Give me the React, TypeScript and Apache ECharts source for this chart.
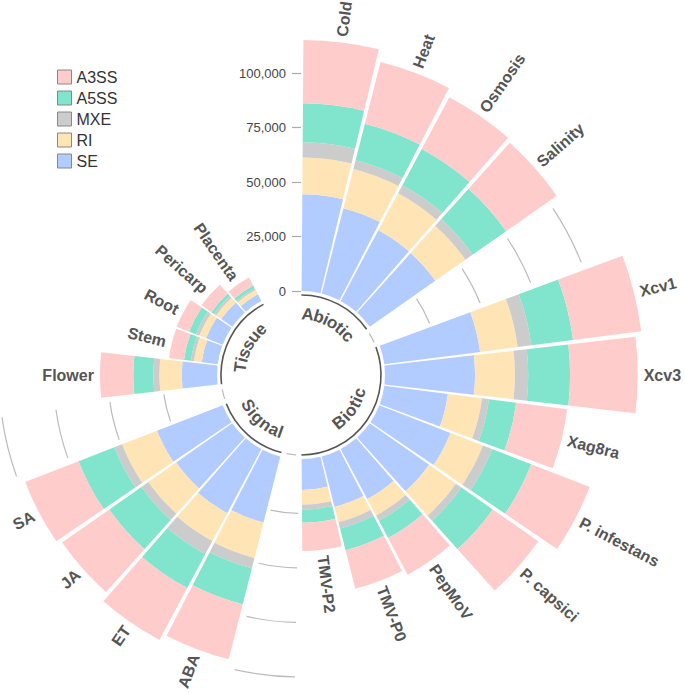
import React, { useEffect, useRef } from 'react';
import * as echarts from 'echarts';

// ---------- data ----------
const abioticCats = ['Cold', 'Heat', 'Osmosis', 'Salinity'];
const bioticCats = ['Xcv1', 'Xcv3', 'Xag8ra', 'P. infestans', 'P. capsici', 'PepMoV', 'TMV-P0', 'TMV-P2'];
const signalCats = ['ABA', 'ET', 'JA', 'SA'];
const tissueCats = ['Flower', 'Stem', 'Root', 'Pericarp', 'Placenta'];
const groupNames = ['Abiotic', 'Biotic', 'Signal', 'Tissue'];

const seriesNames = ['SE', 'RI', 'MXE', 'A5SS', 'A3SS'];
const legendOrder = ['A3SS', 'A5SS', 'MXE', 'RI', 'SE'];

// order: Cold..Salinity, Xcv1..TMV-P2, ABA..SA, Flower..Placenta
const seValues = [44400, 40400, 36800, 36700, 44300, 41300, 29400, 35000, 33200, 26000, 23900, 14200, 31300, 33300, 31400, 32300, 16200, 7400, 8200, 6200, 3500];
const riValues = [16800, 18600, 19200, 16900, 17400, 18300, 15800, 16000, 15100, 8500, 7300, 6800, 16800, 14500, 15600, 17200, 10300, 3600, 3300, 2900, 2200];
const mxeValues = [7000, 4100, 4200, 4100, 6300, 6100, 3200, 4500, 3100, 2800, 2900, 2200, 4800, 6900, 3900, 3800, 2700, 1400, 1700, 1100, 800];
const a5ssValues = [17900, 17300, 18800, 18700, 19300, 19200, 12600, 19200, 17500, 9000, 10300, 6100, 17100, 17600, 18000, 17600, 9200, 3200, 3300, 1500, 1500];
const a3ssValues = [29000, 29200, 26900, 28300, 31500, 31000, 23600, 28800, 25500, 19000, 18200, 12900, 26000, 27000, 26400, 26300, 15300, 6900, 6100, 5500, 4200];

const tickValues = [0, 25000, 50000, 75000, 100000];
const axisMax = 125000;

// ---------- styles ----------
const colorOf: Record<string, string> = {
  SE: '#B3CCFF',
  RI: '#FFE4B5',
  MXE: '#CCCCCC',
  A5SS: '#80E5CC',
  A3SS: '#FFCCCC',
};
const FONT = '"Liberation Sans", Arial, Helvetica, sans-serif';

// ---------- derived layout of slots ----------
const groupCats = [abioticCats, bioticCats, signalCats, tissueCats];
const slotNames: string[] = [];
const barSlot: number[] = [];
const barNames: string[] = [];
const groupRanges: number[][] = [];
const gapSlots: number[] = [];
groupCats.forEach((cats, g) => {
  const first = slotNames.length;
  cats.forEach((c) => {
    barSlot.push(slotNames.length);
    barNames.push(c);
    slotNames.push(c);
  });
  groupRanges.push([first, slotNames.length - 1]);
  if (g < groupCats.length - 1) {
    gapSlots.push(slotNames.length);
    slotNames.push('gap' + g);
  }
});
slotNames.push('end1', 'end2');

const valuesByName: Record<string, number[]> = {
  SE: seValues,
  RI: riValues,
  MXE: mxeValues,
  A5SS: a5ssValues,
  A3SS: a3ssValues,
};
const toSlots = (vals: number[]) => {
  const arr: (number | null)[] = slotNames.map(() => null);
  vals.forEach((v, i) => {
    arr[barSlot[i]] = v;
  });
  return arr;
};
const totals = barNames.map((_, i) => seriesNames.reduce((s, n) => s + valuesByName[n][i], 0));

let measureCtx: CanvasRenderingContext2D | null = null;
const measure = (txt: string, font: string) => {
  if (!measureCtx) measureCtx = document.createElement('canvas').getContext('2d');
  measureCtx!.font = font;
  return measureCtx!.measureText(txt).width;
};

const clockAngle = (p: number[], cx: number, cy: number) => {
  let a = Math.atan2(p[0] - cx, -(p[1] - cy));
  if (a < 0) a += Math.PI * 2;
  return a;
};

export default function App() {
  const ref = useRef<HTMLDivElement>(null);

  useEffect(() => {
    if (!ref.current) return;
    const chart = echarts.init(ref.current, null, { renderer: 'svg' });

    const barSeries = seriesNames.map((name) => ({
      type: 'bar',
      name,
      coordinateSystem: 'polar',
      stack: 'total',
      data: toSlots(valuesByName[name]),
      itemStyle: { color: colorOf[name] },
      barCategoryGap: '6%',
      z: 2,
      silent: true,
      emphasis: { disabled: true },
    }));

    const slotStep = (api: any, cx: number, cy: number) => {
      const a = clockAngle(api.coord([0, 0]), cx, cy);
      const b = clockAngle(api.coord([0, 1]), cx, cy);
      return b - a;
    };

    const gridSeries = {
      type: 'custom',
      coordinateSystem: 'polar',
      silent: true,
      clip: false,
      z: 1,
      data: gapSlots.map((s) => [0, s]),
      encode: { radius: 0, angle: 1 },
      renderItem: (params: any, api: any) => {
        const cs = params.coordSys;
        const cx = cs.cx;
        const cy = cs.cy;
        const idx = api.value(1);
        const step = slotStep(api, cx, cy);
        const mid = clockAngle(api.coord([0, idx]), cx, cy);
        const children = tickValues.map((v) => {
          const p = api.coord([v, idx]);
          let r = Math.hypot(p[0] - cx, p[1] - cy);
          const inner = v === 0;
          if (inner) r -= 4;
          const m = inner ? 0.06 : 0.02;
          return {
            type: 'arc',
            shape: {
              cx,
              cy,
              r,
              startAngle: mid - step / 2 + m - Math.PI / 2,
              endAngle: mid + step / 2 - m - Math.PI / 2,
              clockwise: true,
            },
            style: { stroke: '#BBBBBB', lineWidth: 1.2, fill: null },
          };
        });
        return { type: 'group', children };
      },
    };

    const groupFont = `bold 17px ${FONT}`;
    const groupSeries = {
      type: 'custom',
      coordinateSystem: 'polar',
      silent: true,
      clip: false,
      z: 4,
      data: groupRanges.map(([f, l]) => [0, f, l]),
      encode: { radius: 0, angle: 1 },
      renderItem: (params: any, api: any) => {
        const cs = params.coordSys;
        const cx = cs.cx;
        const cy = cs.cy;
        const f = api.value(1);
        const l = api.value(2);
        const step = slotStep(api, cx, cy);
        const p0 = api.coord([0, f]);
        const r0 = Math.hypot(p0[0] - cx, p0[1] - cy);
        const aStart = clockAngle(p0, cx, cy) - step / 2;
        const aEnd = clockAngle(api.coord([0, l]), cx, cy) + step / 2;
        const children: any[] = [
          {
            type: 'arc',
            shape: {
              cx,
              cy,
              r: r0 - 4,
              startAngle: aStart + 0.005 - Math.PI / 2,
              endAngle: aEnd - 0.005 - Math.PI / 2,
              clockwise: true,
            },
            style: { stroke: '#555555', lineWidth: 1.6, fill: null },
          },
        ];
        const text = groupNames[params.dataIndex];
        const R = r0 - 23;
        const center = (aStart + aEnd) / 2;
        const top = Math.cos(center) > 0;
        const widths = text.split('').map((ch) => measure(ch, groupFont));
        const W = widths.reduce((a, b) => a + b, 0);
        let acc = -W / 2;
        text.split('').forEach((ch, i) => {
          const off = acc + widths[i] / 2;
          acc += widths[i];
          const d = off / R;
          const th = top ? center + d : center - d;
          children.push({
            type: 'text',
            x: cx + R * Math.sin(th),
            y: cy - R * Math.cos(th),
            rotation: top ? -th : Math.PI - th,
            style: {
              text: ch,
              align: 'center',
              verticalAlign: 'middle',
              fill: '#555555',
              font: groupFont,
            },
          });
        });
        return { type: 'group', children };
      },
    };

    const labelSeries = {
      type: 'custom',
      coordinateSystem: 'polar',
      silent: true,
      clip: false,
      z: 5,
      data: barNames.map((_, i) => [totals[i], barSlot[i]]),
      encode: { radius: 0, angle: 1 },
      renderItem: (params: any, api: any) => {
        const cs = params.coordSys;
        const cx = cs.cx;
        const cy = cs.cy;
        const p = api.coord([api.value(0), api.value(1)]);
        const dx = p[0] - cx;
        const dy = p[1] - cy;
        const len = Math.hypot(dx, dy);
        const ax = p[0] + (dx / len) * 6;
        const ay = p[1] + (dy / len) * 6;
        const phi = Math.atan2(-dy, dx);
        const right = dx >= 0;
        return {
          type: 'text',
          x: ax,
          y: ay,
          rotation: right ? phi : phi - Math.PI,
          style: {
            text: barNames[params.dataIndex],
            align: right ? 'left' : 'right',
            verticalAlign: 'middle',
            fill: '#555555',
            font: `bold 16px ${FONT}`,
          },
        };
      },
    };

    chart.setOption({
      animation: false,
      legend: {
        data: legendOrder,
        orient: 'vertical',
        left: 52,
        top: 64,
        itemWidth: 14,
        itemHeight: 14,
        itemGap: 5,
        icon: 'rect',
        selectedMode: false,
        itemStyle: { borderColor: '#888888', borderWidth: 1 },
        textStyle: { fontSize: 16, color: '#333333', fontFamily: FONT },
      },
      polar: {
        center: [301, 375],
        radius: [84, 84 + 2.18 * (axisMax / 1000)],
      },
      angleAxis: {
        type: 'category',
        data: slotNames,
        startAngle: 90,
        clockwise: true,
        boundaryGap: true,
        axisLine: { show: false },
        axisTick: { show: false },
        axisLabel: { show: false },
        splitLine: { show: false },
      },
      radiusAxis: {
        type: 'value',
        min: 0,
        max: axisMax,
        interval: 25000,
        z: 10,
        axisLine: { show: false },
        axisTick: {
          show: true,
          length: 9,
          customValues: tickValues,
          lineStyle: { color: '#AAAAAA', width: 1.2 },
        },
        axisLabel: {
          customValues: tickValues,
          margin: 15,
          color: '#444444',
          fontSize: 13,
          fontFamily: FONT,
          formatter: (v: number) => (v > 100000 ? '' : v.toLocaleString('en-US')),
        },
        splitLine: { show: false },
      },
      series: [gridSeries, ...barSeries, groupSeries, labelSeries],
    });

    return () => chart.dispose();
  }, []);

  return (
    <div
      ref={ref}
      style={{ position: 'absolute', left: 0, top: 0, width: 685, height: 693 }}
    />
  );
}
